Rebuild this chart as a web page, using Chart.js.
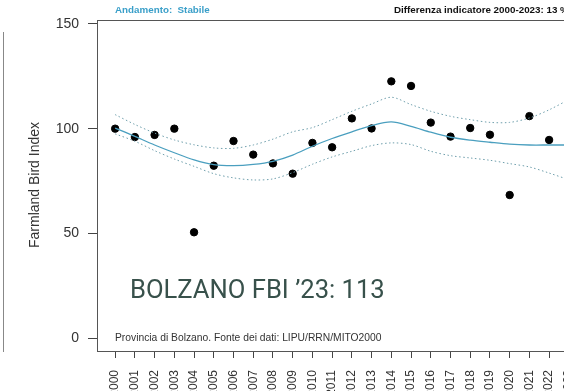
<!DOCTYPE html>
<html>
<head>
<meta charset="utf-8">
<script src="https://cdn.jsdelivr.net/npm/chart.js@4.4.1/dist/chart.umd.min.js"></script>
<style>
  html, body { margin: 0; padding: 0; background: #fff; overflow: hidden; }
  #wrap { width: 600px; height: 391px; }
</style>
</head>
<body>
<div id="wrap"><canvas id="fbi" width="600" height="391"></canvas></div>
<script>
// dati
const years = [2000, 2001, 2002, 2003, 2004, 2005, 2006, 2007, 2008, 2009, 2010, 2011,
               2012, 2013, 2014, 2015, 2016, 2017, 2018, 2019, 2020, 2021, 2022, 2023]
const index_values = [100, 96, 97, 100, 50.5, 82.3, 94.1, 87.6, 83.4, 78.5, 93.2, 91.1,
                      104.9, 100.1, 122.6, 120.4, 102.9, 96.2, 100.3, 97.1, 68.3, 106, 94.6, 113]
const trend = [100.3, 96.3, 92.2, 88.5, 85.1, 82.8, 82.3, 82.9, 84.4, 87.4, 91.6, 95.3,
               98.5, 101.5, 103.2, 101.1, 98.3, 95.9, 94.5, 93.5, 92.6, 92.2, 92.2, 92.2]
const upper = [106.7, 102, 97.9, 94.6, 92.3, 90.8, 90.6, 92.2, 95, 98.5, 100.5, 104.3,
               108.3, 111.8, 115, 111.5, 108.3, 105.9, 104.3, 103, 103, 105.1, 109, 113.9]
const lower = [97.5, 94, 89.5, 85.5, 82, 78.5, 76.5, 75.5, 76, 79, 83, 86.5,
               89.2, 91.9, 93.2, 92.4, 89.2, 87.1, 86, 84.9, 83.3, 81.7, 78.8, 75.6]
const yTicks = [0, 50, 100, 150]

const titleLeft = 'Andamento:  Stabile'
const titleRight = 'Differenza indicatore 2000-2023: 13 %'
const yLabel = 'Farmland Bird Index'
const bigNote = 'BOLZANO FBI \u201923: 113'
const source = 'Provincia di Bolzano. Fonte dei dati: LIPU/RRN/MITO2000'

let zip = (xs, ys) => xs.map((x, i) => { return {'x': x, 'y': ys[i]} })

const lineColor = '#4a9fbf'
const bandColor = '#6f9fac'

// testi e cornice in stile R
const decor = {
  id: 'decor',
  beforeDatasetsDraw(chart) {
    const c = chart.ctx
    const a = chart.chartArea
    c.save()
    c.strokeStyle = '#555'
    c.lineWidth = 1
    c.strokeRect(Math.round(a.left) + 0.5, Math.round(a.top) + 0.5,
                 Math.round(a.right - a.left), Math.round(a.bottom - a.top))
    // bordo esterno a sinistra
    c.strokeStyle = '#888'
    c.beginPath()
    c.moveTo(3.5, 32)
    c.lineTo(3.5, 352)
    c.stroke()

    c.font = 'bold 9.8px "Liberation Sans", Arial, sans-serif'
    c.textBaseline = 'alphabetic'
    c.fillStyle = '#3a9fc9'
    c.fillText(titleLeft, 115, 13)
    c.fillStyle = '#111'
    c.fillText(titleRight, 394, 13)

    c.save()
    c.translate(39, 185)
    c.rotate(-Math.PI / 2)
    c.textAlign = 'center'
    c.font = '14px "Liberation Sans", Arial, sans-serif'
    c.fillStyle = '#333'
    c.fillText(yLabel, 0, 0)
    c.restore()

    c.font = '10.3px "Liberation Sans", Arial, sans-serif'
    c.fillStyle = '#333'
    c.fillText(source, 115, 341)

    c.font = '25.6px Roboto, "Noto Sans", sans-serif'
    c.fillStyle = '#38514b'
    c.fillText(bigNote, 130, 298)
    c.restore()
  }
}

new Chart(document.getElementById('fbi'), {
  type: 'scatter',
  data: {
    datasets: [{
      type: 'line',
      data: zip(years, upper),
      borderColor: bandColor,
      borderWidth: 1,
      borderDash: [1.5, 2.5],
      pointRadius: 0,
      tension: 0.3,
      fill: false
    }, {
      type: 'line',
      data: zip(years, lower),
      borderColor: bandColor,
      borderWidth: 1,
      borderDash: [1.5, 2.5],
      pointRadius: 0,
      tension: 0.3,
      fill: false
    }, {
      type: 'line',
      data: zip(years, trend),
      borderColor: lineColor,
      borderWidth: 1.3,
      pointRadius: 0,
      tension: 0.3,
      fill: false
    }, {
      data: zip(years, index_values),
      backgroundColor: '#000',
      borderColor: '#000',
      pointRadius: 3.7,
      showLine: false
    }]
  },
  options: {
    responsive: false,
    animation: false,
    devicePixelRatio: 1,
    layout: { padding: { top: 20, right: 13, left: 0, bottom: 0 } },
    plugins: { legend: { display: false }, tooltip: { enabled: false } },
    scales: {
      x: {
        type: 'linear',
        min: 1999.08,
        max: 2023.92,
        afterFit: (s) => { s.height = 40 },
        afterBuildTicks: (s) => { s.ticks = years.map(v => ({ value: v })) },
        border: { display: false },
        grid: { drawOnChartArea: false, drawTicks: true, tickLength: 7, color: '#444' },
        ticks: {
          autoSkip: false,
          minRotation: 90,
          maxRotation: 90,
          padding: 12,
          color: '#333',
          font: { family: '"Liberation Sans", Arial, sans-serif', size: 12 },
          callback: (v) => String(v)
        }
      },
      y: {
        min: -6.2,
        max: 151.9,
        afterFit: (s) => { s.width = 97 },
        afterBuildTicks: (s) => { s.ticks = yTicks.map(v => ({ value: v })) },
        border: { display: false },
        grid: { drawOnChartArea: false, drawTicks: true, tickLength: 9, color: '#444' },
        ticks: {
          padding: 9,
          color: '#333',
          font: { family: '"Liberation Sans", Arial, sans-serif', size: 14 }
        }
      }
    }
  },
  plugins: [decor]
})
</script>
</body>
</html>
